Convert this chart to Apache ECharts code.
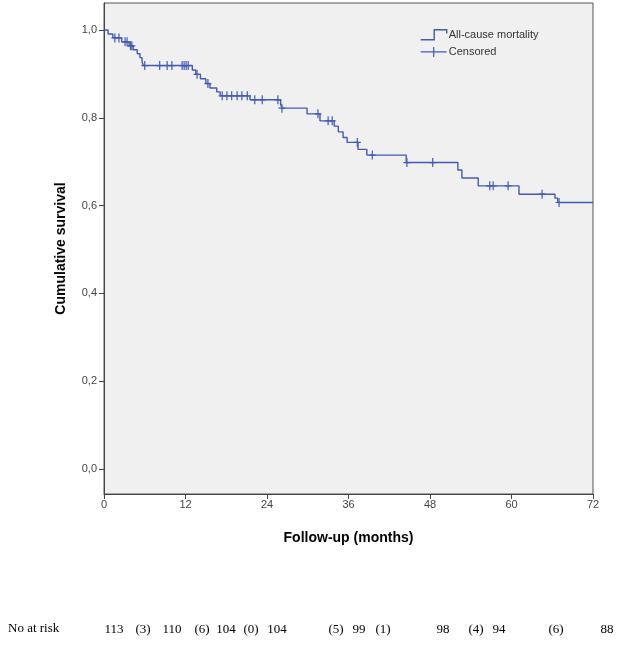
<!DOCTYPE html>
<html>
<head>
<meta charset="utf-8">
<script src="https://cdn.jsdelivr.net/npm/echarts@6/dist/echarts.min.js"></script>
<style>
html,body{margin:0;padding:0;background:#fff;}
#chart{width:630px;height:662px;}
</style>
</head>
<body>
<div id="chart"></div>
<script>
// Kaplan-Meier step curve: time (months) and survival after each step
var stepTimes = [0, 0.6, 1.3, 2.6, 3.7, 4.3, 4.9, 5.3, 5.6, 5.8, 13.0, 13.5, 14.2, 15.0, 15.6, 16.6, 17.1, 21.5, 26.0, 26.2, 29.9, 31.8, 33.9, 34.5, 35.2, 35.8, 37.4, 38.7, 44.5, 52.1, 52.7, 55.1, 61.1, 66.4, 66.8, 72];
var stepSurv  = [1.0, 0.991, 0.982, 0.973, 0.964, 0.955, 0.946, 0.937, 0.928, 0.919, 0.909, 0.899, 0.889, 0.878, 0.868, 0.859, 0.850, 0.841, 0.831, 0.822, 0.809, 0.793, 0.781, 0.768, 0.755, 0.744, 0.728, 0.715, 0.698, 0.681, 0.663, 0.645, 0.626, 0.617, 0.607, 0.607];
// Censored observations
var censorTimes = [1.6, 2.2, 3.1, 3.4, 3.9, 4.1, 6.0, 8.2, 9.3, 10.0, 11.5, 11.8, 12.1, 12.4, 13.7, 15.3, 17.4, 18.1, 18.8, 19.6, 20.3, 21.1, 22.2, 23.3, 25.6, 26.2, 31.5, 33.0, 33.6, 37.3, 39.5, 44.6, 48.4, 56.8, 57.3, 59.5, 64.5, 67.0];
var censorSurv  = [0.982, 0.982, 0.973, 0.973, 0.964, 0.964, 0.919, 0.919, 0.919, 0.919, 0.919, 0.919, 0.919, 0.919, 0.899, 0.878, 0.850, 0.850, 0.850, 0.850, 0.850, 0.850, 0.841, 0.841, 0.841, 0.822, 0.809, 0.793, 0.793, 0.744, 0.715, 0.698, 0.698, 0.645, 0.645, 0.645, 0.626, 0.607];
// Axis ticks
var xTicks = [0, 12, 24, 36, 48, 60, 72];
var yTicks = [0, 0.2, 0.4, 0.6, 0.8, 1.0];
// Number at risk row
var riskTitle = 'No at risk';
var riskLabels = ['113', '(3)', '110', '(6)', '104', '(0)', '104', '(5)', '99', '(1)', '98', '(4)', '94', '(6)', '88'];
</script>
<script>
var riskX = [114, 143, 172, 202, 226, 251, 277, 336, 359, 383, 443, 476, 499, 556, 607];
var blue = '#4259b8';
var chart = echarts.init(document.getElementById('chart'), null, {renderer: 'canvas'});

var lineData = stepTimes.map(function (t, i) { return [t, stepSurv[i]]; });
var censorData = censorTimes.map(function (t, i) { return [t, censorSurv[i]]; });

var graphics = [{
  type: 'text', left: 8, top: 622,
  style: {text: riskTitle, font: '13px "Liberation Serif", serif', fill: '#000'}
}];
riskLabels.forEach(function (s, i) {
  graphics.push({
    type: 'text', x: riskX[i], y: 630,
    style: {text: s, font: '13px "Liberation Serif", serif', fill: '#000', align: 'center', verticalAlign: 'middle'}
  });
});

var fmt = function (v) { return v.toFixed(1).replace('.', ','); };

chart.setOption({
  animation: false,
  backgroundColor: '#ffffff',
  grid: {
    left: 104, top: 3, right: 37, bottom: 168,
    show: true, backgroundColor: '#f0f0f0', borderColor: '#555', borderWidth: 1
  },
  legend: {
    orient: 'vertical', left: 420, top: 29, padding: 0, itemWidth: 26, itemHeight: 10, itemGap: 6,
    symbolKeepAspect: false,
    textStyle: {fontFamily: 'Liberation Sans, Arial, sans-serif', fontSize: 11, color: '#333', padding: [0, 0, 0, -3]},
    data: [
      {name: 'All-cause mortality', icon: 'path://M0,9 L13,9 L13,1 L25,1 L25,4',
       itemStyle: {color: 'rgba(0,0,0,0)', borderColor: blue, borderWidth: 1.4}},
      {name: 'Censored', icon: 'path://M0,4.4 L26,4.4 L26,5.6 L0,5.6 Z M12.4,0 L13.6,0 L13.6,10 L12.4,10 Z',
       itemStyle: {color: blue, borderWidth: 0}}
    ]
  },
  xAxis: {
    type: 'value', min: 0, max: 72, interval: 12,
    name: 'Follow-up (months)', nameLocation: 'middle', nameGap: 37,
    nameTextStyle: {fontFamily: 'Liberation Sans, Arial, sans-serif', fontSize: 14, fontWeight: 'bold', color: '#000'},
    axisLine: {show: true, onZero: false, lineStyle: {color: '#444', width: 1}},
    axisTick: {show: true, length: 5, lineStyle: {color: '#444'}},
    axisLabel: {fontFamily: 'Liberation Sans, Arial, sans-serif', fontSize: 11, color: '#444', margin: 5,
      customValues: xTicks},
    splitLine: {show: false}
  },
  yAxis: {
    type: 'value', min: -0.057, max: 1.0615,
    name: 'Cumulative survival', nameLocation: 'middle', nameGap: 36, nameRotate: 90,
    nameTextStyle: {fontFamily: 'Liberation Sans, Arial, sans-serif', fontSize: 14, fontWeight: 'bold', color: '#000'},
    axisLine: {show: true, onZero: false, lineStyle: {color: '#444', width: 1}},
    axisTick: {show: true, length: 5, lineStyle: {color: '#444'}, customValues: yTicks},
    axisLabel: {fontFamily: 'Liberation Sans, Arial, sans-serif', fontSize: 11, color: '#444', margin: 7,
      customValues: yTicks, formatter: fmt},
    splitLine: {show: false}
  },
  series: [
    {
      name: 'All-cause mortality', type: 'line', step: 'end', data: lineData,
      showSymbol: false, symbol: 'none',
      lineStyle: {color: blue, width: 1.4}, itemStyle: {color: blue}, z: 3
    },
    {
      name: 'Censored', type: 'scatter', data: censorData,
      symbol: 'path://M0,39 L70,39 L70,51 L0,51 Z M29,0 L41,0 L41,90 L29,90 Z',
      symbolSize: [7, 9], symbolKeepAspect: false,
      itemStyle: {color: blue, opacity: 1}, z: 4
    }
  ],
  graphic: graphics
});
</script>
</body>
</html>
